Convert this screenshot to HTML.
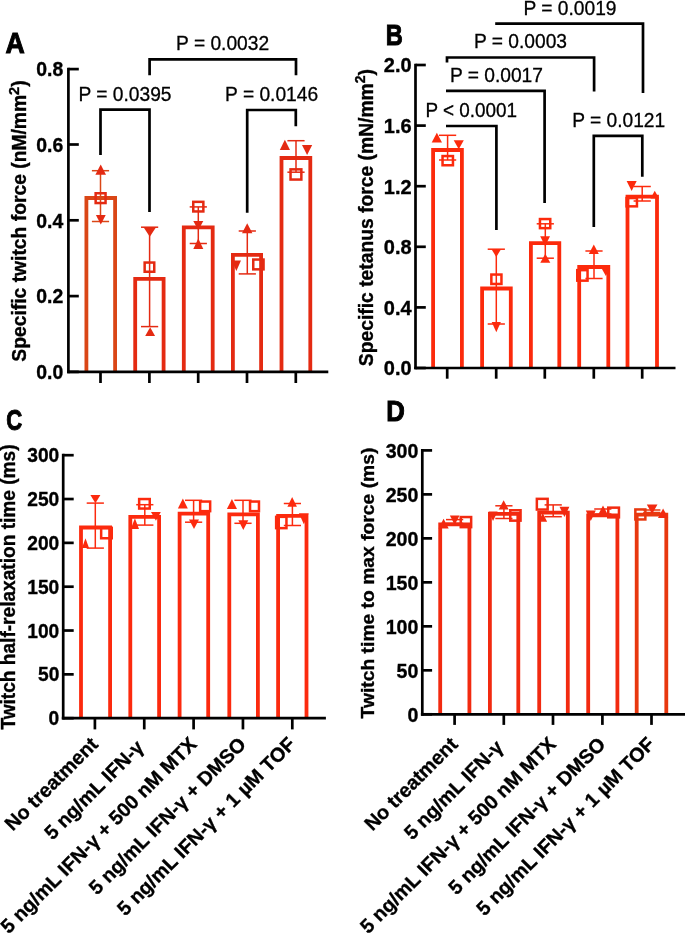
<!DOCTYPE html>
<html><head><meta charset="utf-8"><style>
html,body{margin:0;padding:0;background:#fff;}
svg{display:block;filter:blur(0.35px);}
</style></head><body>
<svg width="685" height="934" viewBox="0 0 685 934">
<rect width="685" height="934" fill="#fff"/>
<path d="M86.40,371.90 V198.00 H115.10 V371.90" fill="none" stroke="#DA4616" stroke-width="3.8" stroke-linejoin="miter" stroke-linecap="butt"/>
<path d="M135.20,371.90 V278.90 H163.60 V371.90" fill="none" stroke="#E42A12" stroke-width="3.8" stroke-linejoin="miter" stroke-linecap="butt"/>
<path d="M183.80,371.90 V227.40 H212.70 V371.90" fill="none" stroke="#E42A12" stroke-width="3.8" stroke-linejoin="miter" stroke-linecap="butt"/>
<path d="M232.90,371.90 V254.80 H261.10 V371.90" fill="none" stroke="#E42A12" stroke-width="3.8" stroke-linejoin="miter" stroke-linecap="butt"/>
<path d="M281.50,371.90 V158.00 H310.30 V371.90" fill="none" stroke="#E42A12" stroke-width="3.8" stroke-linejoin="miter" stroke-linecap="butt"/>
<line x1="100.50" y1="170.70" x2="100.50" y2="221.50" stroke="#DA4616" stroke-width="1.5" stroke-linecap="butt"/>
<line x1="91.90" y1="170.70" x2="109.10" y2="170.70" stroke="#DA4616" stroke-width="1.5" stroke-linecap="butt"/>
<line x1="91.90" y1="221.50" x2="109.10" y2="221.50" stroke="#DA4616" stroke-width="1.5" stroke-linecap="butt"/>
<polygon points="100.70,164.60 106.00,174.80 95.40,174.80" fill="#E42A12"/>
<rect x="95.65" y="193.25" width="9.90" height="9.80" fill="none" stroke="#E42A12" stroke-width="2.5"/>
<polygon points="95.90,215.00 105.70,215.00 100.80,224.50" fill="#E42A12"/>
<line x1="149.60" y1="227.20" x2="149.60" y2="326.60" stroke="#E42A12" stroke-width="1.5" stroke-linecap="butt"/>
<line x1="141.00" y1="227.20" x2="158.20" y2="227.20" stroke="#E42A12" stroke-width="1.5" stroke-linecap="butt"/>
<line x1="141.00" y1="326.60" x2="158.20" y2="326.60" stroke="#E42A12" stroke-width="1.5" stroke-linecap="butt"/>
<polygon points="143.40,227.00 156.20,227.00 149.80,236.80" fill="#E42A12"/>
<rect x="144.65" y="262.55" width="9.60" height="9.20" fill="none" stroke="#E42A12" stroke-width="2.5"/>
<polygon points="150.15,327.30 155.10,336.00 145.20,336.00" fill="#E42A12"/>
<line x1="198.30" y1="206.90" x2="198.30" y2="243.50" stroke="#E42A12" stroke-width="1.5" stroke-linecap="butt"/>
<line x1="189.70" y1="206.90" x2="206.90" y2="206.90" stroke="#E42A12" stroke-width="1.5" stroke-linecap="butt"/>
<line x1="189.70" y1="243.50" x2="206.90" y2="243.50" stroke="#E42A12" stroke-width="1.5" stroke-linecap="butt"/>
<rect x="193.25" y="201.85" width="10.10" height="9.60" fill="none" stroke="#E42A12" stroke-width="2.5"/>
<polygon points="193.30,220.90 203.30,220.90 198.30,230.20" fill="#E42A12"/>
<polygon points="198.30,238.40 203.30,248.90 193.30,248.90" fill="#E42A12"/>
<line x1="247.30" y1="231.00" x2="247.30" y2="273.90" stroke="#E42A12" stroke-width="1.5" stroke-linecap="butt"/>
<line x1="238.70" y1="231.00" x2="255.90" y2="231.00" stroke="#E42A12" stroke-width="1.5" stroke-linecap="butt"/>
<line x1="238.70" y1="273.90" x2="255.90" y2="273.90" stroke="#E42A12" stroke-width="1.5" stroke-linecap="butt"/>
<polygon points="247.20,223.20 252.40,233.30 242.00,233.30" fill="#E42A12"/>
<polygon points="231.70,260.60 241.00,260.60 236.35,271.10" fill="#E42A12"/>
<rect x="253.25" y="259.55" width="10.30" height="9.80" fill="none" stroke="#E42A12" stroke-width="2.5"/>
<line x1="296.00" y1="140.70" x2="296.00" y2="172.20" stroke="#E42A12" stroke-width="1.5" stroke-linecap="butt"/>
<line x1="287.40" y1="140.70" x2="304.60" y2="140.70" stroke="#E42A12" stroke-width="1.5" stroke-linecap="butt"/>
<line x1="287.40" y1="172.20" x2="304.60" y2="172.20" stroke="#E42A12" stroke-width="1.5" stroke-linecap="butt"/>
<polygon points="284.90,139.80 290.00,150.00 279.80,150.00" fill="#E42A12"/>
<polygon points="302.00,145.10 312.20,145.10 307.10,155.00" fill="#E42A12"/>
<rect x="290.55" y="169.35" width="10.80" height="10.20" fill="none" stroke="#E42A12" stroke-width="2.5"/>
<line x1="68.40" y1="67.75" x2="68.40" y2="373.25" stroke="#000" stroke-width="2.7" stroke-linecap="butt"/>
<line x1="68.40" y1="371.90" x2="78.80" y2="371.90" stroke="#000" stroke-width="2.7" stroke-linecap="butt"/>
<text transform="translate(63.30,379.16) scale(0.9750,1.0000)" font-family='"Liberation Sans", sans-serif' font-size="19.9" font-weight="bold" text-anchor="end" fill="#000" stroke="#000" stroke-width="0.35">0.0</text>
<line x1="68.40" y1="296.10" x2="78.80" y2="296.10" stroke="#000" stroke-width="2.7" stroke-linecap="butt"/>
<text transform="translate(63.30,303.37) scale(0.9750,1.0000)" font-family='"Liberation Sans", sans-serif' font-size="19.9" font-weight="bold" text-anchor="end" fill="#000" stroke="#000" stroke-width="0.35">0.2</text>
<line x1="68.40" y1="220.30" x2="78.80" y2="220.30" stroke="#000" stroke-width="2.7" stroke-linecap="butt"/>
<text transform="translate(63.30,227.57) scale(0.9750,1.0000)" font-family='"Liberation Sans", sans-serif' font-size="19.9" font-weight="bold" text-anchor="end" fill="#000" stroke="#000" stroke-width="0.35">0.4</text>
<line x1="68.40" y1="144.50" x2="78.80" y2="144.50" stroke="#000" stroke-width="2.7" stroke-linecap="butt"/>
<text transform="translate(63.30,151.77) scale(0.9750,1.0000)" font-family='"Liberation Sans", sans-serif' font-size="19.9" font-weight="bold" text-anchor="end" fill="#000" stroke="#000" stroke-width="0.35">0.6</text>
<line x1="68.40" y1="69.10" x2="78.80" y2="69.10" stroke="#000" stroke-width="2.7" stroke-linecap="butt"/>
<text transform="translate(63.30,76.36) scale(0.9750,1.0000)" font-family='"Liberation Sans", sans-serif' font-size="19.9" font-weight="bold" text-anchor="end" fill="#000" stroke="#000" stroke-width="0.35">0.8</text>
<line x1="67.00" y1="371.90" x2="328.30" y2="371.90" stroke="#000" stroke-width="2.7" stroke-linecap="butt"/>
<line x1="100.50" y1="371.90" x2="100.50" y2="383.00" stroke="#000" stroke-width="2.7" stroke-linecap="butt"/>
<line x1="149.40" y1="371.90" x2="149.40" y2="383.00" stroke="#000" stroke-width="2.7" stroke-linecap="butt"/>
<line x1="198.20" y1="371.90" x2="198.20" y2="383.00" stroke="#000" stroke-width="2.7" stroke-linecap="butt"/>
<line x1="247.00" y1="371.90" x2="247.00" y2="383.00" stroke="#000" stroke-width="2.7" stroke-linecap="butt"/>
<line x1="295.80" y1="371.90" x2="295.80" y2="383.00" stroke="#000" stroke-width="2.7" stroke-linecap="butt"/>
<path d="M149.6,75.2 V59.4 H296.0 V75.2" fill="none" stroke="#000" stroke-width="2.7" stroke-linejoin="miter" stroke-linecap="butt"/>
<path d="M100.5,155.0 V109.7 H149.5 V212.0" fill="none" stroke="#000" stroke-width="2.7" stroke-linejoin="miter" stroke-linecap="butt"/>
<path d="M247.2,212.7 V110.0 H295.8 V126.2" fill="none" stroke="#000" stroke-width="2.7" stroke-linejoin="miter" stroke-linecap="butt"/>
<text transform="translate(222.60,50.40) scale(0.9600,1.0000)" font-family='"Liberation Sans", sans-serif' font-size="20" font-weight="normal" text-anchor="middle" fill="#000" stroke="#000" stroke-width="0.3">P = 0.0032</text>
<text transform="translate(125.00,100.70) scale(0.9600,1.0000)" font-family='"Liberation Sans", sans-serif' font-size="20" font-weight="normal" text-anchor="middle" fill="#000" stroke="#000" stroke-width="0.3">P = 0.0395</text>
<text transform="translate(271.60,100.90) scale(0.9600,1.0000)" font-family='"Liberation Sans", sans-serif' font-size="20" font-weight="normal" text-anchor="middle" fill="#000" stroke="#000" stroke-width="0.3">P = 0.0146</text>
<text transform="translate(15.10,53.40) scale(0.9200,1.0000)" font-family='"Liberation Sans", sans-serif' font-size="29.0" font-weight="bold" text-anchor="middle" fill="#000" stroke="#000" stroke-width="1.0">A</text>
<text transform="translate(26.20,221.00) rotate(-90)" font-family='"Liberation Sans", sans-serif' font-size="19.3" font-weight="bold" text-anchor="middle" fill="#000" stroke="#000" stroke-width="0.35">Specific twitch force (nM/mm<tspan font-size="14.5" dy="-7.5">2</tspan><tspan dy="7.5">)</tspan></text>
<path d="M433.10,368.00 V150.00 H461.90 V368.00" fill="none" stroke="#FC2A0C" stroke-width="3.8" stroke-linejoin="miter" stroke-linecap="butt"/>
<path d="M482.10,368.00 V288.50 H510.80 V368.00" fill="none" stroke="#FC2A0C" stroke-width="3.8" stroke-linejoin="miter" stroke-linecap="butt"/>
<path d="M530.90,368.00 V243.10 H559.30 V368.00" fill="none" stroke="#FC2A0C" stroke-width="3.8" stroke-linejoin="miter" stroke-linecap="butt"/>
<path d="M579.20,368.00 V267.00 H608.30 V368.00" fill="none" stroke="#FC2A0C" stroke-width="3.8" stroke-linejoin="miter" stroke-linecap="butt"/>
<path d="M627.50,368.00 V196.70 H657.00 V368.00" fill="none" stroke="#FC2A0C" stroke-width="3.8" stroke-linejoin="miter" stroke-linecap="butt"/>
<line x1="447.60" y1="135.30" x2="447.60" y2="160.00" stroke="#FC2A0C" stroke-width="1.5" stroke-linecap="butt"/>
<line x1="439.00" y1="135.30" x2="456.20" y2="135.30" stroke="#FC2A0C" stroke-width="1.5" stroke-linecap="butt"/>
<line x1="439.00" y1="160.00" x2="456.20" y2="160.00" stroke="#FC2A0C" stroke-width="1.5" stroke-linecap="butt"/>
<polygon points="436.85,132.80 442.00,142.50 431.70,142.50" fill="#FC2A0C"/>
<polygon points="453.70,140.20 463.80,140.20 458.75,149.20" fill="#FC2A0C"/>
<rect x="442.55" y="156.05" width="10.40" height="9.20" fill="none" stroke="#FC2A0C" stroke-width="2.5"/>
<line x1="496.30" y1="249.20" x2="496.30" y2="324.00" stroke="#FC2A0C" stroke-width="1.5" stroke-linecap="butt"/>
<line x1="487.70" y1="249.20" x2="504.90" y2="249.20" stroke="#FC2A0C" stroke-width="1.5" stroke-linecap="butt"/>
<line x1="487.70" y1="324.00" x2="504.90" y2="324.00" stroke="#FC2A0C" stroke-width="1.5" stroke-linecap="butt"/>
<polygon points="491.50,249.20 501.00,249.20 496.25,257.10" fill="#FC2A0C"/>
<rect x="491.35" y="274.55" width="10.10" height="9.40" fill="none" stroke="#FC2A0C" stroke-width="2.5"/>
<polygon points="491.70,322.00 500.90,322.00 496.30,332.30" fill="#FC2A0C"/>
<line x1="545.30" y1="223.80" x2="545.30" y2="258.20" stroke="#FC2A0C" stroke-width="1.5" stroke-linecap="butt"/>
<line x1="536.70" y1="223.80" x2="553.90" y2="223.80" stroke="#FC2A0C" stroke-width="1.5" stroke-linecap="butt"/>
<line x1="536.70" y1="258.20" x2="553.90" y2="258.20" stroke="#FC2A0C" stroke-width="1.5" stroke-linecap="butt"/>
<rect x="539.95" y="219.05" width="10.30" height="9.10" fill="none" stroke="#FC2A0C" stroke-width="2.5"/>
<polygon points="540.20,236.30 550.00,236.30 545.10,246.00" fill="#FC2A0C"/>
<polygon points="545.30,253.70 550.30,262.70 540.30,262.70" fill="#FC2A0C"/>
<line x1="594.00" y1="251.00" x2="594.00" y2="278.50" stroke="#FC2A0C" stroke-width="1.5" stroke-linecap="butt"/>
<line x1="585.40" y1="251.00" x2="602.60" y2="251.00" stroke="#FC2A0C" stroke-width="1.5" stroke-linecap="butt"/>
<line x1="585.40" y1="278.50" x2="602.60" y2="278.50" stroke="#FC2A0C" stroke-width="1.5" stroke-linecap="butt"/>
<polygon points="593.80,244.60 598.80,254.00 588.80,254.00" fill="#FC2A0C"/>
<rect x="577.25" y="270.15" width="10.30" height="10.50" fill="none" stroke="#FC2A0C" stroke-width="2.5"/>
<polygon points="601.50,268.20 610.20,268.20 605.85,275.90" fill="#FC2A0C"/>
<line x1="642.20" y1="186.50" x2="642.20" y2="201.00" stroke="#FC2A0C" stroke-width="1.5" stroke-linecap="butt"/>
<line x1="633.60" y1="186.50" x2="650.80" y2="186.50" stroke="#FC2A0C" stroke-width="1.5" stroke-linecap="butt"/>
<line x1="633.60" y1="201.00" x2="650.80" y2="201.00" stroke="#FC2A0C" stroke-width="1.5" stroke-linecap="butt"/>
<polygon points="626.60,181.10 636.70,181.10 631.65,191.10" fill="#FC2A0C"/>
<rect x="626.55" y="198.05" width="10.40" height="8.30" fill="none" stroke="#FC2A0C" stroke-width="2.5"/>
<polygon points="654.75,190.70 659.00,198.50 650.50,198.50" fill="#FC2A0C"/>
<line x1="415.50" y1="63.65" x2="415.50" y2="369.35" stroke="#000" stroke-width="2.7" stroke-linecap="butt"/>
<line x1="415.50" y1="368.00" x2="425.80" y2="368.00" stroke="#000" stroke-width="2.7" stroke-linecap="butt"/>
<text transform="translate(411.60,375.34) scale(0.9950,1.0000)" font-family='"Liberation Sans", sans-serif' font-size="20.1" font-weight="bold" text-anchor="end" fill="#000" stroke="#000" stroke-width="0.35">0.0</text>
<line x1="415.50" y1="307.40" x2="425.80" y2="307.40" stroke="#000" stroke-width="2.7" stroke-linecap="butt"/>
<text transform="translate(411.60,314.74) scale(0.9950,1.0000)" font-family='"Liberation Sans", sans-serif' font-size="20.1" font-weight="bold" text-anchor="end" fill="#000" stroke="#000" stroke-width="0.35">0.4</text>
<line x1="415.50" y1="246.80" x2="425.80" y2="246.80" stroke="#000" stroke-width="2.7" stroke-linecap="butt"/>
<text transform="translate(411.60,254.14) scale(0.9950,1.0000)" font-family='"Liberation Sans", sans-serif' font-size="20.1" font-weight="bold" text-anchor="end" fill="#000" stroke="#000" stroke-width="0.35">0.8</text>
<line x1="415.50" y1="186.20" x2="425.80" y2="186.20" stroke="#000" stroke-width="2.7" stroke-linecap="butt"/>
<text transform="translate(411.60,193.54) scale(0.9950,1.0000)" font-family='"Liberation Sans", sans-serif' font-size="20.1" font-weight="bold" text-anchor="end" fill="#000" stroke="#000" stroke-width="0.35">1.2</text>
<line x1="415.50" y1="125.60" x2="425.80" y2="125.60" stroke="#000" stroke-width="2.7" stroke-linecap="butt"/>
<text transform="translate(411.60,132.94) scale(0.9950,1.0000)" font-family='"Liberation Sans", sans-serif' font-size="20.1" font-weight="bold" text-anchor="end" fill="#000" stroke="#000" stroke-width="0.35">1.6</text>
<line x1="415.50" y1="65.00" x2="425.80" y2="65.00" stroke="#000" stroke-width="2.7" stroke-linecap="butt"/>
<text transform="translate(411.60,72.33) scale(0.9950,1.0000)" font-family='"Liberation Sans", sans-serif' font-size="20.1" font-weight="bold" text-anchor="end" fill="#000" stroke="#000" stroke-width="0.35">2.0</text>
<line x1="414.20" y1="368.00" x2="675.50" y2="368.00" stroke="#000" stroke-width="2.7" stroke-linecap="butt"/>
<line x1="447.20" y1="368.00" x2="447.20" y2="378.70" stroke="#000" stroke-width="2.7" stroke-linecap="butt"/>
<line x1="496.20" y1="368.00" x2="496.20" y2="378.70" stroke="#000" stroke-width="2.7" stroke-linecap="butt"/>
<line x1="544.80" y1="368.00" x2="544.80" y2="378.70" stroke="#000" stroke-width="2.7" stroke-linecap="butt"/>
<line x1="593.80" y1="368.00" x2="593.80" y2="378.70" stroke="#000" stroke-width="2.7" stroke-linecap="butt"/>
<line x1="642.20" y1="368.00" x2="642.20" y2="378.70" stroke="#000" stroke-width="2.7" stroke-linecap="butt"/>
<path d="M495.2,23.7 H643.0 V93.1" fill="none" stroke="#000" stroke-width="2.7" stroke-linejoin="miter" stroke-linecap="butt"/>
<path d="M447.0,62.4 V57.5 H594.1 V91.5" fill="none" stroke="#000" stroke-width="2.7" stroke-linejoin="miter" stroke-linecap="butt"/>
<path d="M446.0,90.9 H544.6 V203.1" fill="none" stroke="#000" stroke-width="2.7" stroke-linejoin="miter" stroke-linecap="butt"/>
<path d="M446.0,126.0 H496.4 V230.1" fill="none" stroke="#000" stroke-width="2.7" stroke-linejoin="miter" stroke-linecap="butt"/>
<path d="M593.8,227.0 V135.9 H642.3 V176.7" fill="none" stroke="#000" stroke-width="2.7" stroke-linejoin="miter" stroke-linecap="butt"/>
<text transform="translate(570.00,14.80) scale(0.9600,1.0000)" font-family='"Liberation Sans", sans-serif' font-size="20" font-weight="normal" text-anchor="middle" fill="#000" stroke="#000" stroke-width="0.3">P = 0.0019</text>
<text transform="translate(520.50,47.50) scale(0.9600,1.0000)" font-family='"Liberation Sans", sans-serif' font-size="20" font-weight="normal" text-anchor="middle" fill="#000" stroke="#000" stroke-width="0.3">P = 0.0003</text>
<text transform="translate(496.40,81.90) scale(0.9600,1.0000)" font-family='"Liberation Sans", sans-serif' font-size="20" font-weight="normal" text-anchor="middle" fill="#000" stroke="#000" stroke-width="0.3">P = 0.0017</text>
<text transform="translate(471.30,116.90) scale(0.9450,1.0000)" font-family='"Liberation Sans", sans-serif' font-size="20" font-weight="normal" text-anchor="middle" fill="#000" stroke="#000" stroke-width="0.3">P &lt; 0.0001</text>
<text transform="translate(618.70,126.90) scale(0.9600,1.0000)" font-family='"Liberation Sans", sans-serif' font-size="20" font-weight="normal" text-anchor="middle" fill="#000" stroke="#000" stroke-width="0.3">P = 0.0121</text>
<text transform="translate(394.25,45.10) scale(0.8200,1.0000)" font-family='"Liberation Sans", sans-serif' font-size="28.8" font-weight="bold" text-anchor="middle" fill="#000" stroke="#000" stroke-width="1.0">B</text>
<text transform="translate(372.60,217.60) rotate(-90)" font-family='"Liberation Sans", sans-serif' font-size="19.3" font-weight="bold" text-anchor="middle" fill="#000" stroke="#000" stroke-width="0.35">Specific tetanus force (mN/mm<tspan font-size="14" dy="-8">2</tspan><tspan dy="8">)</tspan></text>
<path d="M81.00,718.20 V527.50 H110.10 V718.20" fill="none" stroke="#FC2A0E" stroke-width="3.8" stroke-linejoin="miter" stroke-linecap="butt"/>
<path d="M130.30,718.20 V516.80 H159.10 V718.20" fill="none" stroke="#FC2A0E" stroke-width="3.8" stroke-linejoin="miter" stroke-linecap="butt"/>
<path d="M179.60,718.20 V513.60 H208.20 V718.20" fill="none" stroke="#FC2A0E" stroke-width="3.8" stroke-linejoin="miter" stroke-linecap="butt"/>
<path d="M229.30,718.20 V514.30 H257.90 V718.20" fill="none" stroke="#FC2A0E" stroke-width="3.8" stroke-linejoin="miter" stroke-linecap="butt"/>
<path d="M278.10,718.20 V515.80 H306.50 V718.20" fill="none" stroke="#FC2A0E" stroke-width="3.8" stroke-linejoin="miter" stroke-linecap="butt"/>
<line x1="95.30" y1="503.10" x2="95.30" y2="548.10" stroke="#FC2A0E" stroke-width="1.5" stroke-linecap="butt"/>
<line x1="86.70" y1="503.10" x2="103.90" y2="503.10" stroke="#FC2A0E" stroke-width="1.5" stroke-linecap="butt"/>
<line x1="86.70" y1="548.10" x2="103.90" y2="548.10" stroke="#FC2A0E" stroke-width="1.5" stroke-linecap="butt"/>
<polygon points="90.40,494.90 100.40,494.90 95.40,503.20" fill="#FC2A0E"/>
<rect x="101.15" y="527.85" width="10.60" height="10.40" fill="none" stroke="#FC2A0E" stroke-width="2.5"/>
<polygon points="85.50,538.30 89.00,548.10 82.00,548.10" fill="#FC2A0E"/>
<line x1="144.80" y1="504.70" x2="144.80" y2="525.10" stroke="#FC2A0E" stroke-width="1.5" stroke-linecap="butt"/>
<line x1="136.20" y1="504.70" x2="153.40" y2="504.70" stroke="#FC2A0E" stroke-width="1.5" stroke-linecap="butt"/>
<line x1="136.20" y1="525.10" x2="153.40" y2="525.10" stroke="#FC2A0E" stroke-width="1.5" stroke-linecap="butt"/>
<rect x="139.15" y="499.05" width="10.60" height="9.50" fill="none" stroke="#FC2A0E" stroke-width="2.5"/>
<polygon points="151.00,512.00 160.80,512.00 155.90,520.80" fill="#FC2A0E"/>
<polygon points="134.90,518.30 139.00,529.00 130.80,529.00" fill="#FC2A0E"/>
<line x1="193.60" y1="500.30" x2="193.60" y2="522.20" stroke="#FC2A0E" stroke-width="1.5" stroke-linecap="butt"/>
<line x1="185.00" y1="500.30" x2="202.20" y2="500.30" stroke="#FC2A0E" stroke-width="1.5" stroke-linecap="butt"/>
<line x1="185.00" y1="522.20" x2="202.20" y2="522.20" stroke="#FC2A0E" stroke-width="1.5" stroke-linecap="butt"/>
<polygon points="182.85,498.50 187.80,508.40 177.90,508.40" fill="#FC2A0E"/>
<rect x="200.15" y="501.55" width="10.00" height="9.60" fill="none" stroke="#FC2A0E" stroke-width="2.5"/>
<polygon points="189.00,519.40 199.00,519.40 194.00,529.00" fill="#FC2A0E"/>
<line x1="243.00" y1="500.30" x2="243.00" y2="523.30" stroke="#FC2A0E" stroke-width="1.5" stroke-linecap="butt"/>
<line x1="234.40" y1="500.30" x2="251.60" y2="500.30" stroke="#FC2A0E" stroke-width="1.5" stroke-linecap="butt"/>
<line x1="234.40" y1="523.30" x2="251.60" y2="523.30" stroke="#FC2A0E" stroke-width="1.5" stroke-linecap="butt"/>
<polygon points="231.95,499.00 237.00,509.00 226.90,509.00" fill="#FC2A0E"/>
<rect x="250.05" y="501.55" width="8.90" height="9.60" fill="none" stroke="#FC2A0E" stroke-width="2.5"/>
<polygon points="238.30,520.20 248.30,520.20 243.30,530.10" fill="#FC2A0E"/>
<line x1="292.40" y1="503.50" x2="292.40" y2="525.50" stroke="#FC2A0E" stroke-width="1.5" stroke-linecap="butt"/>
<line x1="283.80" y1="503.50" x2="301.00" y2="503.50" stroke="#FC2A0E" stroke-width="1.5" stroke-linecap="butt"/>
<line x1="283.80" y1="525.50" x2="301.00" y2="525.50" stroke="#FC2A0E" stroke-width="1.5" stroke-linecap="butt"/>
<polygon points="292.15,496.90 296.90,506.80 287.40,506.80" fill="#FC2A0E"/>
<rect x="276.15" y="516.85" width="10.30" height="11.30" fill="none" stroke="#FC2A0E" stroke-width="2.5"/>
<polygon points="298.90,513.20 308.80,513.20 303.85,524.20" fill="#FC2A0E"/>
<line x1="63.20" y1="453.85" x2="63.20" y2="719.55" stroke="#000" stroke-width="2.7" stroke-linecap="butt"/>
<line x1="63.20" y1="718.20" x2="73.70" y2="718.20" stroke="#000" stroke-width="2.7" stroke-linecap="butt"/>
<text transform="translate(59.30,725.29) scale(0.9100,1.0000)" font-family='"Liberation Sans", sans-serif' font-size="21.1" font-weight="bold" text-anchor="end" fill="#000" stroke="#000" stroke-width="0.35">0</text>
<line x1="63.20" y1="674.37" x2="73.70" y2="674.37" stroke="#000" stroke-width="2.7" stroke-linecap="butt"/>
<text transform="translate(59.30,681.45) scale(0.9100,1.0000)" font-family='"Liberation Sans", sans-serif' font-size="21.1" font-weight="bold" text-anchor="end" fill="#000" stroke="#000" stroke-width="0.35">50</text>
<line x1="63.20" y1="630.53" x2="73.70" y2="630.53" stroke="#000" stroke-width="2.7" stroke-linecap="butt"/>
<text transform="translate(59.30,637.62) scale(0.9100,1.0000)" font-family='"Liberation Sans", sans-serif' font-size="21.1" font-weight="bold" text-anchor="end" fill="#000" stroke="#000" stroke-width="0.35">100</text>
<line x1="63.20" y1="586.70" x2="73.70" y2="586.70" stroke="#000" stroke-width="2.7" stroke-linecap="butt"/>
<text transform="translate(59.30,593.79) scale(0.9100,1.0000)" font-family='"Liberation Sans", sans-serif' font-size="21.1" font-weight="bold" text-anchor="end" fill="#000" stroke="#000" stroke-width="0.35">150</text>
<line x1="63.20" y1="542.87" x2="73.70" y2="542.87" stroke="#000" stroke-width="2.7" stroke-linecap="butt"/>
<text transform="translate(59.30,549.95) scale(0.9100,1.0000)" font-family='"Liberation Sans", sans-serif' font-size="21.1" font-weight="bold" text-anchor="end" fill="#000" stroke="#000" stroke-width="0.35">200</text>
<line x1="63.20" y1="499.03" x2="73.70" y2="499.03" stroke="#000" stroke-width="2.7" stroke-linecap="butt"/>
<text transform="translate(59.30,506.12) scale(0.9100,1.0000)" font-family='"Liberation Sans", sans-serif' font-size="21.1" font-weight="bold" text-anchor="end" fill="#000" stroke="#000" stroke-width="0.35">250</text>
<line x1="63.20" y1="455.20" x2="73.70" y2="455.20" stroke="#000" stroke-width="2.7" stroke-linecap="butt"/>
<text transform="translate(59.30,462.29) scale(0.9100,1.0000)" font-family='"Liberation Sans", sans-serif' font-size="21.1" font-weight="bold" text-anchor="end" fill="#000" stroke="#000" stroke-width="0.35">300</text>
<line x1="61.80" y1="718.20" x2="325.90" y2="718.20" stroke="#000" stroke-width="2.7" stroke-linecap="butt"/>
<line x1="94.90" y1="718.20" x2="94.90" y2="729.40" stroke="#000" stroke-width="2.7" stroke-linecap="butt"/>
<line x1="144.25" y1="718.20" x2="144.25" y2="729.40" stroke="#000" stroke-width="2.7" stroke-linecap="butt"/>
<line x1="193.60" y1="718.20" x2="193.60" y2="729.40" stroke="#000" stroke-width="2.7" stroke-linecap="butt"/>
<line x1="242.95" y1="718.20" x2="242.95" y2="729.40" stroke="#000" stroke-width="2.7" stroke-linecap="butt"/>
<line x1="292.30" y1="718.20" x2="292.30" y2="729.40" stroke="#000" stroke-width="2.7" stroke-linecap="butt"/>
<text transform="translate(14.15,429.80) scale(0.7370,1.0000)" font-family='"Liberation Sans", sans-serif' font-size="30" font-weight="bold" text-anchor="middle" fill="#000" stroke="#000" stroke-width="1.0">C</text>
<text transform="translate(15.00,587.00) rotate(-90) scale(1.0000,1.0500)" font-family='"Liberation Sans", sans-serif' font-size="19.1" font-weight="bold" text-anchor="middle" fill="#000" stroke="#000" stroke-width="0.35">Twitch half-relaxation time (ms)</text>
<path d="M440.20,714.30 V524.30 H469.40 V714.30" fill="none" stroke="#F22A10" stroke-width="3.8" stroke-linejoin="miter" stroke-linecap="butt"/>
<path d="M489.90,714.30 V513.80 H518.30 V714.30" fill="none" stroke="#F22A10" stroke-width="3.8" stroke-linejoin="miter" stroke-linecap="butt"/>
<path d="M539.20,714.30 V512.70 H567.80 V714.30" fill="none" stroke="#F22A10" stroke-width="3.8" stroke-linejoin="miter" stroke-linecap="butt"/>
<path d="M588.20,714.30 V515.40 H617.40 V714.30" fill="none" stroke="#F22A10" stroke-width="3.8" stroke-linejoin="miter" stroke-linecap="butt"/>
<path d="M636.70,714.30 V514.60 H666.30 V714.30" fill="none" stroke="#E8380F" stroke-width="3.8" stroke-linejoin="miter" stroke-linecap="butt"/>
<line x1="454.60" y1="519.60" x2="454.60" y2="523.30" stroke="#F22A10" stroke-width="1.5" stroke-linecap="butt"/>
<line x1="446.00" y1="519.60" x2="463.20" y2="519.60" stroke="#F22A10" stroke-width="1.5" stroke-linecap="butt"/>
<line x1="446.00" y1="523.30" x2="463.20" y2="523.30" stroke="#F22A10" stroke-width="1.5" stroke-linecap="butt"/>
<polygon points="443.60,518.70 448.70,528.60 438.50,528.60" fill="#F22A10"/>
<polygon points="449.90,515.40 459.50,515.40 454.70,524.90" fill="#F22A10"/>
<rect x="460.75" y="517.05" width="10.40" height="10.10" fill="none" stroke="#F22A10" stroke-width="2.5"/>
<line x1="503.90" y1="505.80" x2="503.90" y2="518.50" stroke="#F22A10" stroke-width="1.5" stroke-linecap="butt"/>
<line x1="495.30" y1="505.80" x2="512.50" y2="505.80" stroke="#F22A10" stroke-width="1.5" stroke-linecap="butt"/>
<line x1="495.30" y1="518.50" x2="512.50" y2="518.50" stroke="#F22A10" stroke-width="1.5" stroke-linecap="butt"/>
<polygon points="503.65,500.30 508.60,509.60 498.70,509.60" fill="#F22A10"/>
<rect x="510.25" y="510.25" width="10.30" height="10.40" fill="none" stroke="#F22A10" stroke-width="2.5"/>
<polygon points="488.50,511.60 497.60,511.60 493.05,521.00" fill="#F22A10"/>
<line x1="553.20" y1="504.90" x2="553.20" y2="516.70" stroke="#F22A10" stroke-width="1.5" stroke-linecap="butt"/>
<line x1="544.60" y1="504.90" x2="561.80" y2="504.90" stroke="#F22A10" stroke-width="1.5" stroke-linecap="butt"/>
<line x1="544.60" y1="516.70" x2="561.80" y2="516.70" stroke="#F22A10" stroke-width="1.5" stroke-linecap="butt"/>
<rect x="536.85" y="498.85" width="10.80" height="10.70" fill="none" stroke="#F22A10" stroke-width="2.5"/>
<polygon points="559.50,506.70 569.40,506.70 564.45,517.00" fill="#F22A10"/>
<polygon points="542.75,513.00 547.10,521.70 538.40,521.70" fill="#F22A10"/>
<line x1="602.80" y1="509.00" x2="602.80" y2="514.00" stroke="#F22A10" stroke-width="1.5" stroke-linecap="butt"/>
<line x1="594.20" y1="509.00" x2="611.40" y2="509.00" stroke="#F22A10" stroke-width="1.5" stroke-linecap="butt"/>
<line x1="594.20" y1="514.00" x2="611.40" y2="514.00" stroke="#F22A10" stroke-width="1.5" stroke-linecap="butt"/>
<polygon points="585.80,510.50 595.80,510.50 590.80,521.00" fill="#F22A10"/>
<polygon points="603.00,505.50 607.50,514.00 598.50,514.00" fill="#F22A10"/>
<rect x="608.25" y="507.65" width="10.70" height="9.70" fill="none" stroke="#F22A10" stroke-width="2.5"/>
<line x1="651.80" y1="510.00" x2="651.80" y2="512.50" stroke="#E8380F" stroke-width="1.5" stroke-linecap="butt"/>
<line x1="643.20" y1="510.00" x2="660.40" y2="510.00" stroke="#E8380F" stroke-width="1.5" stroke-linecap="butt"/>
<line x1="643.20" y1="512.50" x2="660.40" y2="512.50" stroke="#E8380F" stroke-width="1.5" stroke-linecap="butt"/>
<rect x="635.35" y="509.45" width="10.00" height="10.00" fill="none" stroke="#E8380F" stroke-width="2.5"/>
<polygon points="646.80,504.50 657.50,504.50 652.15,514.00" fill="#F22A10"/>
<polygon points="663.10,508.40 668.20,518.00 658.00,518.00" fill="#F22A10"/>
<line x1="422.30" y1="449.05" x2="422.30" y2="715.65" stroke="#000" stroke-width="2.7" stroke-linecap="butt"/>
<line x1="422.30" y1="714.30" x2="432.10" y2="714.30" stroke="#000" stroke-width="2.7" stroke-linecap="butt"/>
<text transform="translate(418.40,721.98) scale(0.9300,1.0000)" font-family='"Liberation Sans", sans-serif' font-size="21.1" font-weight="bold" text-anchor="end" fill="#000" stroke="#000" stroke-width="0.35">0</text>
<line x1="422.30" y1="670.32" x2="432.10" y2="670.32" stroke="#000" stroke-width="2.7" stroke-linecap="butt"/>
<text transform="translate(418.40,678.00) scale(0.9300,1.0000)" font-family='"Liberation Sans", sans-serif' font-size="21.1" font-weight="bold" text-anchor="end" fill="#000" stroke="#000" stroke-width="0.35">50</text>
<line x1="422.30" y1="626.33" x2="432.10" y2="626.33" stroke="#000" stroke-width="2.7" stroke-linecap="butt"/>
<text transform="translate(418.40,634.02) scale(0.9300,1.0000)" font-family='"Liberation Sans", sans-serif' font-size="21.1" font-weight="bold" text-anchor="end" fill="#000" stroke="#000" stroke-width="0.35">100</text>
<line x1="422.30" y1="582.35" x2="432.10" y2="582.35" stroke="#000" stroke-width="2.7" stroke-linecap="butt"/>
<text transform="translate(418.40,590.03) scale(0.9300,1.0000)" font-family='"Liberation Sans", sans-serif' font-size="21.1" font-weight="bold" text-anchor="end" fill="#000" stroke="#000" stroke-width="0.35">150</text>
<line x1="422.30" y1="538.37" x2="432.10" y2="538.37" stroke="#000" stroke-width="2.7" stroke-linecap="butt"/>
<text transform="translate(418.40,546.05) scale(0.9300,1.0000)" font-family='"Liberation Sans", sans-serif' font-size="21.1" font-weight="bold" text-anchor="end" fill="#000" stroke="#000" stroke-width="0.35">200</text>
<line x1="422.30" y1="494.38" x2="432.10" y2="494.38" stroke="#000" stroke-width="2.7" stroke-linecap="butt"/>
<text transform="translate(418.40,502.07) scale(0.9300,1.0000)" font-family='"Liberation Sans", sans-serif' font-size="21.1" font-weight="bold" text-anchor="end" fill="#000" stroke="#000" stroke-width="0.35">250</text>
<line x1="422.30" y1="450.40" x2="432.10" y2="450.40" stroke="#000" stroke-width="2.7" stroke-linecap="butt"/>
<text transform="translate(418.40,458.08) scale(0.9300,1.0000)" font-family='"Liberation Sans", sans-serif' font-size="21.1" font-weight="bold" text-anchor="end" fill="#000" stroke="#000" stroke-width="0.35">300</text>
<line x1="420.90" y1="714.30" x2="685.00" y2="714.30" stroke="#000" stroke-width="2.7" stroke-linecap="butt"/>
<line x1="454.60" y1="714.30" x2="454.60" y2="724.90" stroke="#000" stroke-width="2.7" stroke-linecap="butt"/>
<line x1="503.80" y1="714.30" x2="503.80" y2="724.90" stroke="#000" stroke-width="2.7" stroke-linecap="butt"/>
<line x1="553.00" y1="714.30" x2="553.00" y2="724.90" stroke="#000" stroke-width="2.7" stroke-linecap="butt"/>
<line x1="602.40" y1="714.30" x2="602.40" y2="724.90" stroke="#000" stroke-width="2.7" stroke-linecap="butt"/>
<line x1="651.50" y1="714.30" x2="651.50" y2="724.90" stroke="#000" stroke-width="2.7" stroke-linecap="butt"/>
<text transform="translate(395.50,420.80) scale(0.8900,1.0000)" font-family='"Liberation Sans", sans-serif' font-size="28.9" font-weight="bold" text-anchor="middle" fill="#000" stroke="#000" stroke-width="1.0">D</text>
<text transform="translate(373.60,583.00) rotate(-90) scale(1.0000,0.9700)" font-family='"Liberation Sans", sans-serif' font-size="19.3" font-weight="bold" text-anchor="middle" fill="#000" stroke="#000" stroke-width="0.35">Twitch time to max force (ms)</text>
<text transform="translate(99.10,745.50) rotate(-45)" font-family='"Liberation Sans", sans-serif' font-size="19.8" font-weight="bold" text-anchor="end" fill="#000" stroke="#000" stroke-width="0.35">No treatment</text>
<text transform="translate(144.85,748.40) rotate(-45)" font-family='"Liberation Sans", sans-serif' font-size="19.8" font-weight="bold" text-anchor="end" fill="#000" stroke="#000" stroke-width="0.35">5 ng/mL IFN-γ</text>
<text transform="translate(197.80,745.50) rotate(-45)" font-family='"Liberation Sans", sans-serif' font-size="19.8" font-weight="bold" text-anchor="end" fill="#000" stroke="#000" stroke-width="0.35">5 ng/mL IFN-γ + 500 nM MTX</text>
<text transform="translate(247.15,745.50) rotate(-45)" font-family='"Liberation Sans", sans-serif' font-size="19.8" font-weight="bold" text-anchor="end" fill="#000" stroke="#000" stroke-width="0.35">5 ng/mL IFN-γ + DMSO</text>
<text transform="translate(296.50,745.50) rotate(-45)" font-family='"Liberation Sans", sans-serif' font-size="19.8" font-weight="bold" text-anchor="end" fill="#000" stroke="#000" stroke-width="0.35">5 ng/mL IFN-γ + 1 µM TOF</text>
<text transform="translate(458.80,745.50) rotate(-45)" font-family='"Liberation Sans", sans-serif' font-size="19.8" font-weight="bold" text-anchor="end" fill="#000" stroke="#000" stroke-width="0.35">No treatment</text>
<text transform="translate(504.40,748.40) rotate(-45)" font-family='"Liberation Sans", sans-serif' font-size="19.8" font-weight="bold" text-anchor="end" fill="#000" stroke="#000" stroke-width="0.35">5 ng/mL IFN-γ</text>
<text transform="translate(557.20,745.50) rotate(-45)" font-family='"Liberation Sans", sans-serif' font-size="19.8" font-weight="bold" text-anchor="end" fill="#000" stroke="#000" stroke-width="0.35">5 ng/mL IFN-γ + 500 nM MTX</text>
<text transform="translate(606.60,745.50) rotate(-45)" font-family='"Liberation Sans", sans-serif' font-size="19.8" font-weight="bold" text-anchor="end" fill="#000" stroke="#000" stroke-width="0.35">5 ng/mL IFN-γ + DMSO</text>
<text transform="translate(655.70,745.50) rotate(-45)" font-family='"Liberation Sans", sans-serif' font-size="19.8" font-weight="bold" text-anchor="end" fill="#000" stroke="#000" stroke-width="0.35">5 ng/mL IFN-γ + 1 µM TOF</text>
</svg>
</body></html>
